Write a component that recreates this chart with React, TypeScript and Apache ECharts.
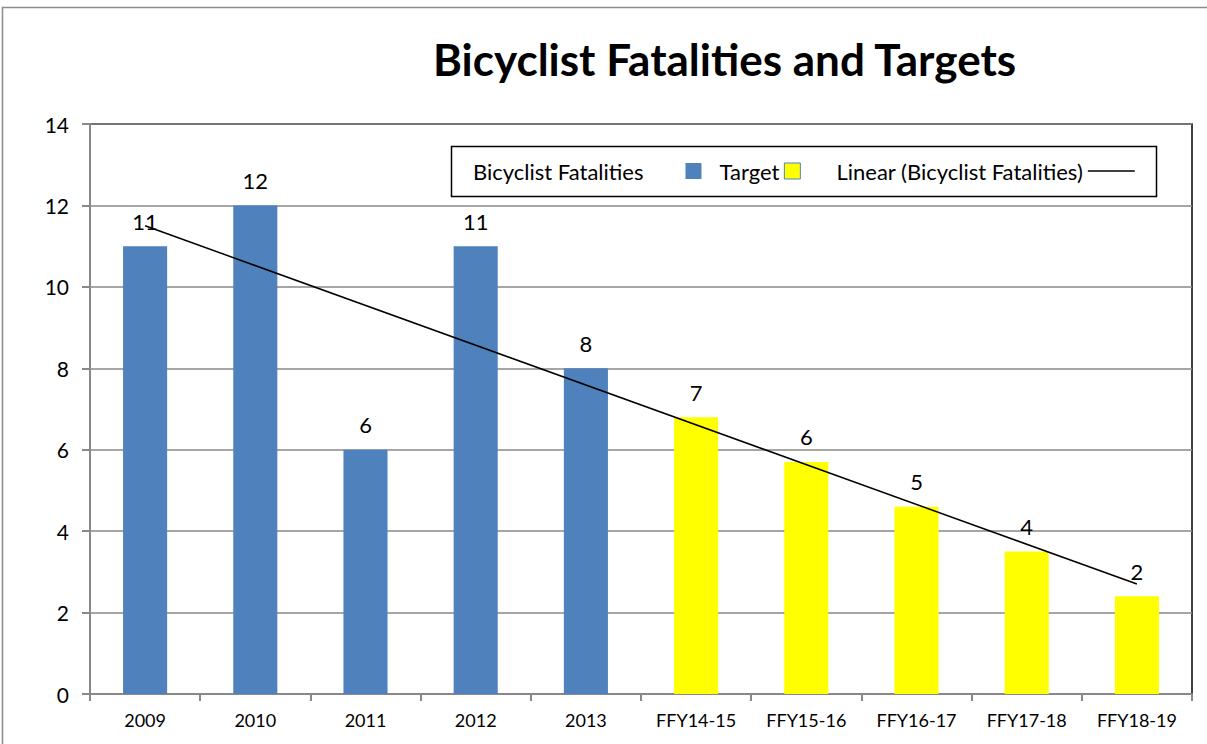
import React, { useEffect, useRef } from "react";
import * as echarts from "echarts";

const categories = ["2009", "2010", "2011", "2012", "2013", "FFY14-15", "FFY15-16", "FFY16-17", "FFY17-18", "FFY18-19"];
const fatalities = [11, 12, 6, 11, 8, null, null, null, null, null];
const targets = [null, null, null, null, null, 6.8, 5.7, 4.6, 3.5, 2.4];
const trendEnds = [11.5, 2.7];
const yTicks = { min: 0, max: 14, interval: 2 };

const FONT = "Lato, 'Open Sans', sans-serif";

export default function App() {
  const ref = useRef<HTMLDivElement>(null);
  useEffect(() => {
    if (!ref.current) return;
    const chart = echarts.init(ref.current, null, { renderer: "svg" });
    const trendData = [
      [categories[0], trendEnds[0]],
      [categories[categories.length - 1], trendEnds[1]],
    ];
    const labelCfg = {
      show: true,
      position: "top",
      distance: 14,
      color: "#000",
      fontSize: 22,
      fontFamily: FONT,
      formatter: (p: any) => String(Math.round(p.value)),
    };
    chart.setOption({
      animation: false,
      backgroundColor: "#fff",
      textStyle: { fontFamily: FONT },
      title: {
        text: "Bicyclist Fatalities and Targets",
        left: 428,
        top: 32,
        padding: 5,
        textStyle: { fontSize: 44, fontWeight: "bold", color: "#000", fontFamily: FONT },
      },
      graphic: [
        {
          type: "rect",
          shape: { x: 2.5, y: 7.5, width: 1300, height: 900 },
          style: { fill: "none", stroke: "#8c8c8c", lineWidth: 1.5 },
          silent: true,
        },
        {
          type: "rect",
          shape: { x: 451.5, y: 146.5, width: 705, height: 50 },
          style: { fill: "#fff", stroke: "#000", lineWidth: 1.5 },
          z: 5,
          silent: true,
        },
      ],
      legend: [
        {
          left: 473,
          top: 160,
          padding: 0,
          align: "right",
          icon: "rect",
          itemWidth: 16,
          itemHeight: 16,
          itemGap: 18,
          z: 10,
          textStyle: { fontSize: 22, color: "#000", fontFamily: FONT },
          data: [
            { name: "Bicyclist Fatalities", icon: "rect", textStyle: { padding: [0, 37, 0, 0] } },
            { name: "Target", icon: "rect", itemStyle: { borderColor: "#4F81BD", borderWidth: 1 } },
          ],
        },
        {
          left: 836,
          top: 160,
          padding: 0,
          align: "right",
          itemWidth: 47,
          itemHeight: 16,
          z: 10,
          textStyle: { fontSize: 22, color: "#000", fontFamily: FONT },
          data: [{ name: "Linear (Bicyclist Fatalities)", icon: "path://M0,7.5 L47,7.5 L47,9 L0,9 Z" }],
        },
      ],
      grid: {
        left: 90,
        right: 15,
        top: 124,
        bottom: 50,
        show: true,
        borderColor: "#000",
        borderWidth: 1.5,
        backgroundColor: "transparent",
      },
      xAxis: {
        type: "category",
        data: categories,
        axisLine: { lineStyle: { color: "#888", width: 2 } },
        axisTick: { show: true, length: 7, lineStyle: { color: "#888", width: 2 } },
        axisLabel: { color: "#000", fontSize: 18, margin: 17, fontFamily: FONT },
      },
      yAxis: {
        type: "value",
        min: yTicks.min,
        max: yTicks.max,
        interval: yTicks.interval,
        axisLine: { show: true, lineStyle: { color: "#888", width: 2 } },
        axisTick: { show: true, length: 8, lineStyle: { color: "#888", width: 2 } },
        axisLabel: { color: "#000", fontSize: 21, margin: 21, fontFamily: FONT },
        splitLine: { lineStyle: { color: "#888", width: 1.5 } },
      },
      series: [
        {
          name: "Bicyclist Fatalities",
          type: "bar",
          stack: "all",
          barWidth: "40%",
          data: fatalities,
          itemStyle: { color: "#4F81BD" },
          label: labelCfg,
        },
        {
          name: "Target",
          type: "bar",
          stack: "all",
          barWidth: "40%",
          data: targets,
          itemStyle: { color: "#FFFF00" },
          label: labelCfg,
        },
        {
          name: "Linear (Bicyclist Fatalities)",
          type: "line",
          data: trendData,
          symbol: "none",
          lineStyle: { color: "#000", width: 1.5 },
          itemStyle: { color: "#000" },
          z: 4,
        },
      ],
    });
    return () => chart.dispose();
  }, []);
  return <div ref={ref} style={{ width: 1207, height: 744, position: "absolute", left: 0, top: 0 }} />;
}
